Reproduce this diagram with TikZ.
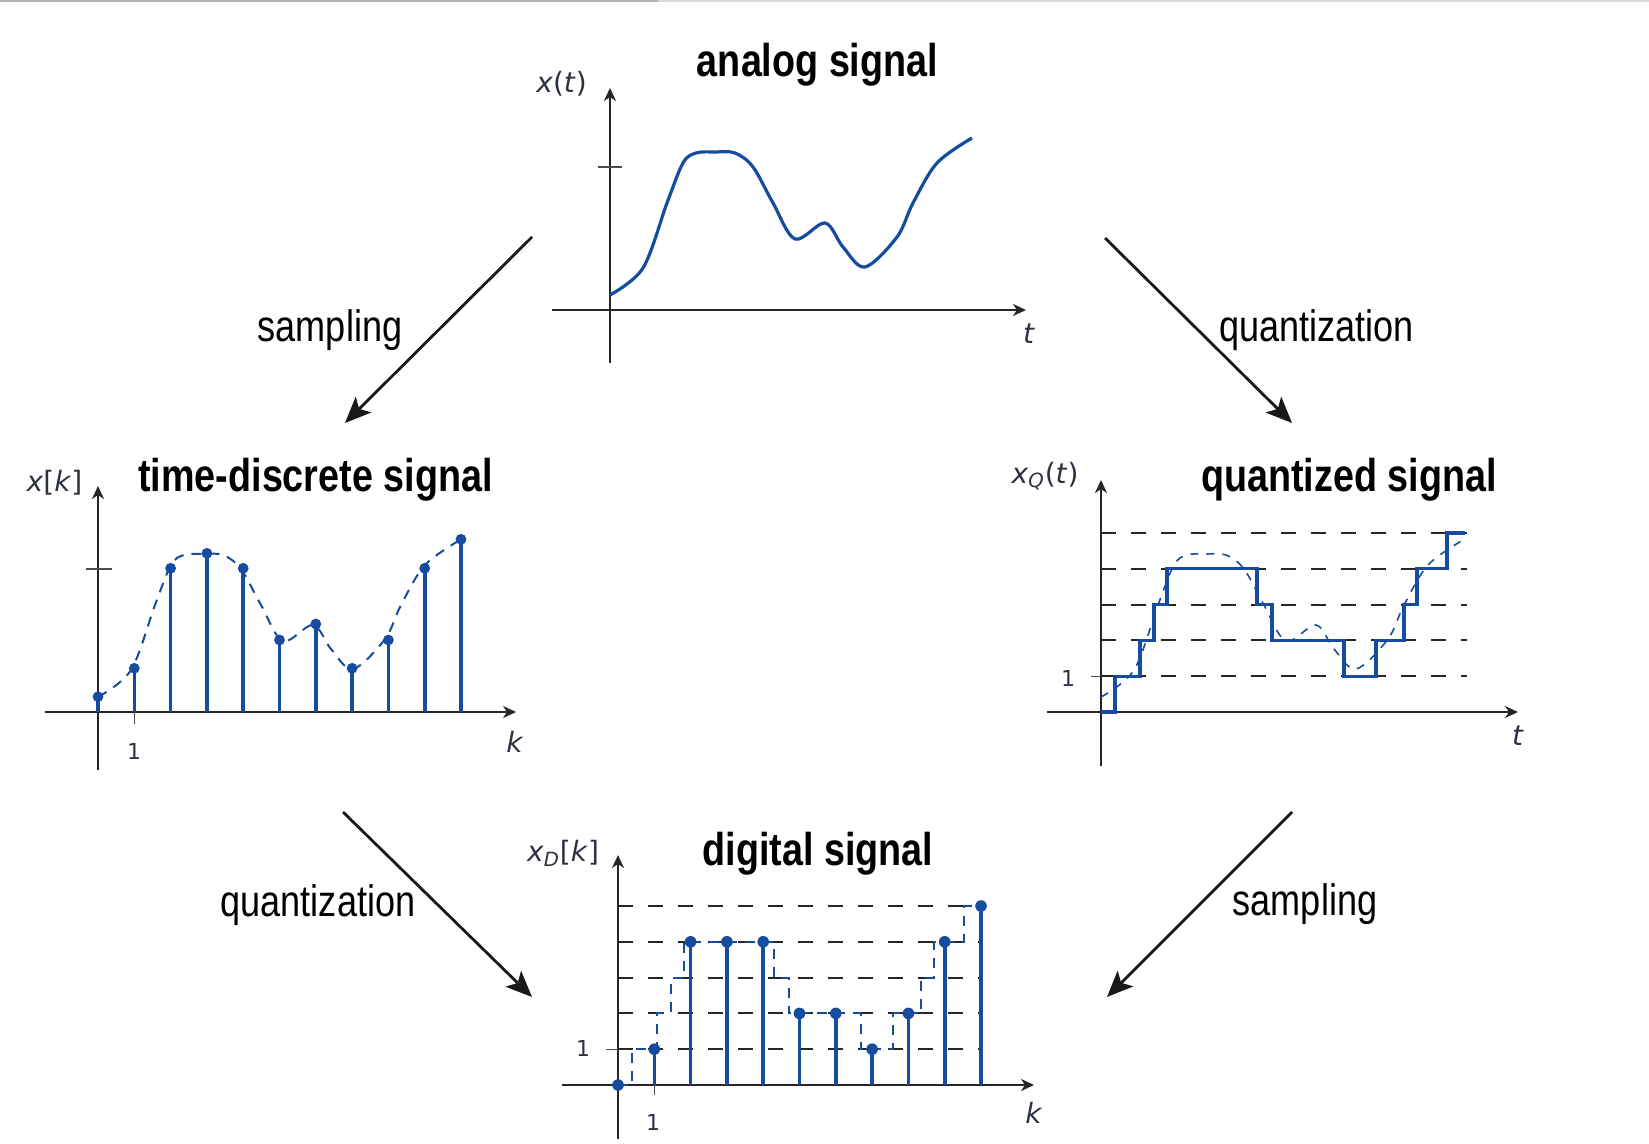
\documentclass[tikz,border=0pt]{standalone}
\usepackage{fontspec}
\usetikzlibrary{arrows.meta}
\newfontfamily\lblfont[FakeStretch=0.82]{Liberation Sans}
\newfontfamily\axfont{DejaVu Sans}
\definecolor{sigblue}{RGB}{22,76,160}
\definecolor{axlab}{RGB}{45,50,65}
\begin{document}
\begin{tikzpicture}[x=0.5pt,y=-0.5pt,
  axis/.style={line width=1.1pt, draw=black!85, -{Stealth[length=6.5pt,width=6pt,inset=2pt]}},
  tick/.style={line width=0.7pt, draw=black!70},
  flow/.style={line width=1.4pt, draw=black!90, -{Stealth[length=13pt,width=11pt,inset=3pt]}},
  sig/.style={line width=1.6pt, draw=sigblue},
  sigdash/.style={line width=1pt, draw=sigblue, dash pattern=on 5pt off 4pt},
  sigthin/.style={line width=0.8pt, draw=sigblue, dash pattern=on 4pt off 4pt},
  stem/.style={line width=1.8pt, draw=sigblue},
  dot/.style={fill=sigblue},
  level/.style={line width=1pt, draw=black!85, dash pattern=on 7.5pt off 7.5pt},
  title/.style={font=\lblfont\bfseries\fontsize{23}{27}\selectfont, anchor=base, inner sep=0pt},
  op/.style={font=\lblfont\fontsize{22}{26}\selectfont, anchor=base, inner sep=0pt},
  axl/.style={font=\axfont\fontsize{14}{17}\selectfont, text=axlab, inner sep=0pt},
  num/.style={font=\axfont\fontsize{11}{13}\selectfont, text=axlab, inner sep=0pt},
  analog/.style={insert path={plot[smooth,tension=0.55] coordinates {(0,-15) (33,-42) (57,-107) (73,-147) (86,-157) (105,-158) (125,-157) (143,-143) (163,-107) (185,-71) (215,-87) (233,-63) (255,-43) (287,-73) (303,-107) (327,-147) (362,-172)}}},
  stairs/.style={insert path={(0,0)--(14,0)--(14,-35.8)--(39,-35.8)--(39,-71.6)--(53,-71.6)--(53,-107.4)--(66,-107.4)--(66,-143.2)--(156,-143.2)--(156,-107.4)--(171,-107.4)--(171,-71.6)--(243,-71.6)--(243,-35.8)--(275,-35.8)--(275,-71.6)--(303,-71.6)--(303,-107.4)--(316,-107.4)--(316,-143.2)--(346,-143.2)--(346,-179)--(364,-179)}}
]
\useasboundingbox (0,0) rectangle (1649,1144);
\draw[line width=1pt, black!30] (0,1) -- (658,1);
\draw[line width=1pt, black!15] (658,1) -- (1649,1);

% ---------- analog signal ----------
\begin{scope}[shift={(610,310)}]
  \draw[axis] (-58,0) -- (416,0);
  \draw[axis] (0,53) -- (0,-222);
  \draw[tick] (-12,-143) -- (12,-143);
  \path[sig] [analog];
\end{scope}
\node[title] (tAnalog) at (817.5,76.7) {analog signal};
\node[axl, anchor=base] (yAnalog) at (561.5,93) {\textit{x}(\textit{t})};
\node[axl] (xAnalog) at (1029,334) {\textit{t}};

% ---------- time-discrete signal ----------
\begin{scope}[shift={(98,712)}]
  \draw[axis] (-53,0) -- (418,0);
  \draw[axis] (0,58) -- (0,-226);
  \draw[tick] (-12,-143) -- (14,-143);
  \draw[tick] (36.3,0) -- (36.3,12);
  \path[sigdash] [analog];
  \foreach \k/\h in {0/15.3,1/43.7,2/143.7,3/158.7,4/143.7,5/72,6/88,7/43.7,8/72,9/143.7,10/172.7}{
    \draw[stem] (36.3*\k,0) -- (36.3*\k,-\h);
    \fill[dot] (36.3*\k,-\h) circle[radius=2.7pt];
  }
\end{scope}
\node[title] (tDiscrete) at (315.5,491.7) {time-discrete signal};
\node[axl, anchor=base] (yDiscrete) at (54.5,491.7) {\textit{x}[\textit{k}]};
\node[axl] (xDiscrete) at (515,742) {\textit{k}};
\node[num] (oneDiscrete) at (134,751) {1};

% ---------- quantized signal ----------
\begin{scope}[shift={(1101,712)}]
  \foreach \l in {1,...,5}{
    \draw[level] (0,-35.8*\l) -- (366,-35.8*\l);
  }
  \draw[axis] (-54,0) -- (417,0);
  \draw[axis] (0,54) -- (0,-232);
  \draw[tick] (-10,-35.8) -- (0,-35.8);
  \path[sigthin] [analog];
  \path[sig, line join=miter] [stairs];
\end{scope}
\node[title] (tQuant) at (1349,491.7) {quantized signal};
\node[axl, anchor=base] (yQuant) at (1045,483) {\textit{x}\textsubscript{\textit{Q}}(\textit{t})};
\node[axl] (xQuant) at (1518,736) {\textit{t}};
\node[num] (oneQuant) at (1068,678) {1};

% ---------- digital signal ----------
\begin{scope}[shift={(618,1085)}]
  \foreach \l in {1,...,5}{
    \draw[level] (0,-35.8*\l) -- (364,-35.8*\l);
  }
  \draw[axis] (-56,0) -- (416,0);
  \draw[axis] (0,54) -- (0,-230);
  \draw[tick] (-12,-35.8) -- (0,-35.8);
  \draw[tick] (36.3,0) -- (36.3,10);
  \path[sigdash] [stairs];
  \foreach \k/\q in {0/0,1/1,2/4,3/4,4/4,5/2,6/2,7/1,8/2,9/4,10/5}{
    \draw[stem] (36.3*\k,0) -- (36.3*\k,-35.8*\q);
    \fill[dot] (36.3*\k,-35.8*\q) circle[radius=2.9pt];
  }
\end{scope}
\node[title] (tDigital) at (818,865) {digital signal};
\node[axl, anchor=base] (yDigital) at (563,861.7) {\textit{x}\textsubscript{\textit{D}}[\textit{k}]};
\node[axl] (xDigital) at (1034,1113) {\textit{k}};
\node[num] (oneDigitalY) at (583,1048) {1};
\node[num] (oneDigitalX) at (653,1122) {1};

% ---------- transitions ----------
\coordinate (a1s) at (532,237);  \coordinate (a1e) at (345,423);
\coordinate (a2s) at (1105,238); \coordinate (a2e) at (1292,423);
\coordinate (a3s) at (343,812);  \coordinate (a3e) at (532,997);
\coordinate (a4s) at (1292,812); \coordinate (a4e) at (1107,997);
\draw[flow] (a1s) -- (a1e);
\draw[flow] (a2s) -- (a2e);
\draw[flow] (a3s) -- (a3e);
\draw[flow] (a4s) -- (a4e);
\node[op] (opSampL) at (330,341.7) {sampling};
\node[op] (opQuantR) at (1316.5,341.7) {quantization};
\node[op] (opQuantL) at (318,916.7) {quantization};
\node[op] (opSampR) at (1305,915) {sampling};
\end{tikzpicture}
\end{document}
